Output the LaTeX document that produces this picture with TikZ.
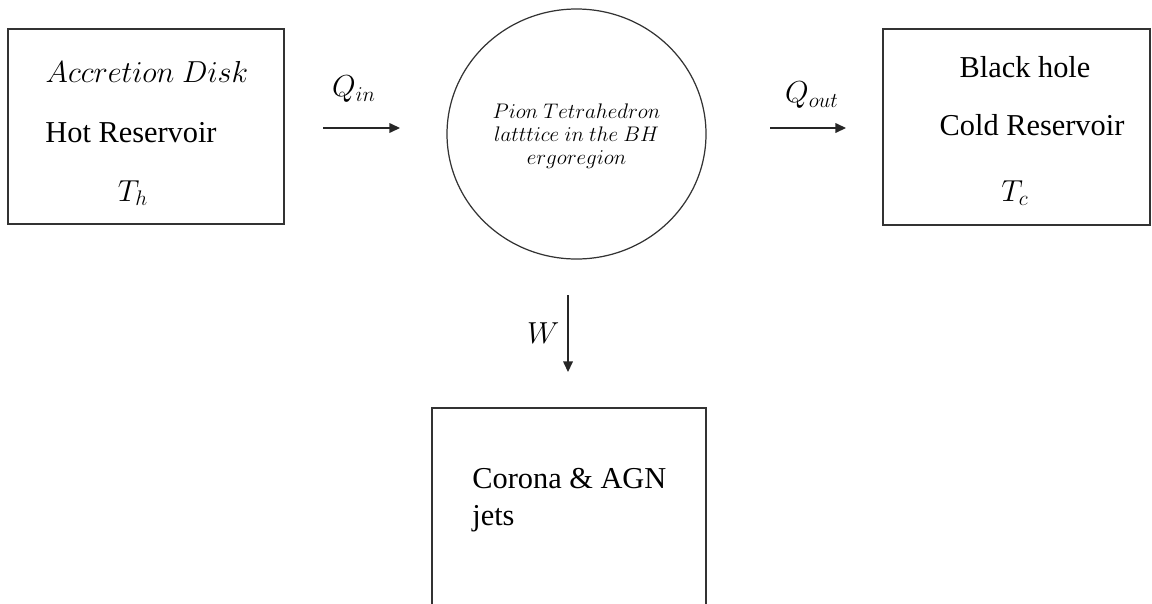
\documentclass[tikz,border=0pt]{standalone}
\usepackage{fontspec}
\setmainfont{Liberation Serif}
\usepackage{amsmath}
\usetikzlibrary{arrows.meta,positioning,shapes.geometric}

\begin{document}
\begin{tikzpicture}[
      caja/.style={rectangle, draw=black!80, line width=0.7pt},
      circulo/.style={ellipse, draw=black!80, line width=0.7pt},
      texto/.style={inner sep=0pt, font=\fontsize{17.28}{21}\selectfont},
      textochico/.style={inner sep=0pt, align=center, font=\fontsize{12}{13.1}\selectfont},
      flecha/.style={-{Triangle[length=6pt, width=5.5pt]}, line width=0.7pt, draw=black!85}
    ]
    \useasboundingbox (0,0) rectangle (23.04,-12.06);
    % depositos
    \node[caja, minimum width=5.52cm, minimum height=3.9cm] (caliente) at (2.92,-2.53) {};
    \node[texto] (disco) at (2.94,-1.44) {$Accretion\ Disk$};
    \node[texto] (hot) at (2.62,-2.66) {Hot Reservoir};
    \node[texto] (th) at (2.66,-3.86) {$T_h$};
    \node[circulo, minimum width=5.18cm, minimum height=5cm] (red) at (11.53,-2.68) {};
    \node[textochico] (redtexto) at (11.53,-2.72) {$Pion\ Tetrahedron$\\ $latttice\ in\ the\ BH$\\ $ergoregion$};
    \node[caja, minimum width=5.34cm, minimum height=3.92cm] (fria) at (20.33,-2.54) {};
    \node[texto] (agujero) at (20.5,-1.34) {Black hole};
    \node[texto] (cold) at (20.64,-2.5) {Cold Reservoir};
    \node[texto] (tc) at (20.3,-3.86) {$T_c$};
    \node[caja, minimum width=5.48cm, minimum height=5.04cm] (corona) at (11.38,-10.68) {};
    \node[texto, anchor=base west, align=left] (coronatexto) at (9.44,-10.5) {Corona \& AGN\\jets};
    % flujos
    \coordinate (qin1) at (6.46,-2.56);
    \coordinate (qin2) at (8.0,-2.56);
    \coordinate (qout1) at (15.4,-2.56);
    \coordinate (qout2) at (16.92,-2.56);
    \coordinate (w1) at (11.36,-5.9);
    \coordinate (w2) at (11.36,-7.44);
    \draw[flecha] (qin1) -- node[texto, above=0.5cm, xshift=-0.15cm] {$Q_{in}$} (qin2);
    \draw[flecha] (qout1) -- node[texto, above=0.38cm, xshift=0.08cm] {$Q_{out}$} (qout2);
    \draw[flecha] (w1) -- node[texto, left=0.16cm] {$W$} (w2);
  \end{tikzpicture}
\end{document}
